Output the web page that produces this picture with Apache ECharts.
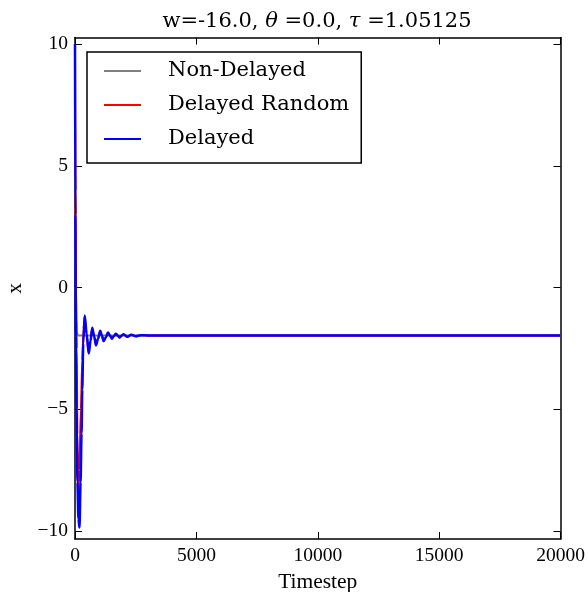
<!DOCTYPE html>
<html>
<head>
<meta charset="utf-8">
<script src="https://cdn.jsdelivr.net/npm/echarts@6/dist/echarts.min.js"></script>
<style>
  html, body { margin: 0; padding: 0; background: #fff; }
  #chart { width: 587px; height: 592px; }
</style>
</head>
<body>
<div id="chart"></div>
<script>
// tick labels
const xTicks = [0, 5000, 10000, 15000, 20000];
const yTicks = [-10, -5, 0, 5, 10];

// Non-Delayed (gray)
const nonDelayedT = [0, 15, 30, 50, 80, 120, 20000];
const nonDelayedX = [10, 3, 0, -1.3, -1.85, -1.97, -1.97];

// Delayed Random (red)
const randomT = [0, 20, 45, 70, 100, 135, 180, 240, 300, 350, 395, 480, 560, 640, 705, 785, 860, 945, 1035, 1105, 1175, 1265, 1355, 1435, 1515, 1595, 1675, 1755, 1835, 1915, 1995, 2155, 2315, 2500, 2700, 3000, 20000];
const randomX = [10, 4, 0, -2.5, -6, -8.46, -7.5, -5, -3, -1.7, -1.2, -1.95, -2.68, -2.2, -1.67, -2.0, -2.36, -2.1, -1.79, -1.98, -2.19, -2.05, -1.86, -1.97, -2.09, -2.0, -1.9, -1.97, -2.05, -1.98, -1.93, -2.02, -1.94, -2.0, -1.96, -1.97, -1.97];

// Delayed (blue)
const delayedT = [0, 15, 35, 60, 100, 140, 185, 230, 270, 300, 340, 400, 480, 565, 640, 710, 790, 865, 950, 1040, 1110, 1180, 1270, 1360, 1440, 1520, 1600, 1680, 1760, 1840, 1920, 2000, 2160, 2320, 2500, 2700, 3000, 20000];
const delayedX = [10, 3, -2, -5, -8, -9.5, -9.86, -8, -6, -4.2, -2.3, -1.15, -1.9, -2.71, -2.2, -1.65, -2.0, -2.38, -2.1, -1.78, -1.98, -2.2, -2.05, -1.85, -1.97, -2.1, -2.0, -1.9, -1.97, -2.05, -1.98, -1.92, -2.02, -1.94, -2.0, -1.96, -1.97, -1.97];

const pairs = (t, x) => t.map((v, i) => [v, x[i]]);

const serif = 'DejaVu Serif';
const tickFont = 'Liberation Serif';
const frame = { show: true, onZero: false, lineStyle: { color: '#000', width: 1.5 } };
const tick = { show: true, inside: true, length: 7, lineStyle: { color: '#000', width: 1 } };

const chart = echarts.init(document.getElementById('chart'));
chart.setOption({
  animation: false,
  backgroundColor: '#fff',
  title: {
    text: 'w=-16.0, {i|θ} =0.0, {i|τ} =1.05125',
    left: 317,
    top: 11,
    padding: 0,
    textAlign: 'center',
    textStyle: {
      fontFamily: serif,
      fontSize: 21,
      fontWeight: 'normal',
      color: '#000',
      rich: {
        i: { fontFamily: serif, fontSize: 21, fontStyle: 'italic', color: '#000' }
      }
    }
  },
  grid: { left: 75, right: 26.5, top: 37.5, bottom: 53, outerBoundsMode: 'none', containLabel: false },
  legend: {
    orient: 'vertical',
    left: 87,
    top: 52,
    padding: [7, 12, 12, 17],
    itemGap: 10,
    itemWidth: 37,
    itemHeight: 2,
    icon: 'rect',
    backgroundColor: '#fff',
    borderColor: '#000',
    borderWidth: 1.5,
    borderRadius: 0,
    textStyle: {
      fontFamily: serif,
      fontSize: 21,
      color: '#000',
      lineHeight: 24,
      padding: [0, 0, 0, 22]
    },
    data: ['Non-Delayed', 'Delayed Random', 'Delayed']
  },
  xAxis: [
    {
      type: 'value', min: 0, max: 20000, interval: 5000, position: 'bottom',
      axisLine: frame, axisTick: tick, splitLine: { show: false },
      axisLabel: { color: '#000', fontFamily: tickFont, fontSize: 19.5, margin: 7, formatter: v => String(v) },
      name: 'Timestep', nameLocation: 'middle', nameGap: 21,
      nameTextStyle: { color: '#000', fontFamily: tickFont, fontSize: 21.5 }
    },
    {
      type: 'value', min: 0, max: 20000, interval: 5000, position: 'top',
      axisLine: frame, axisTick: tick, splitLine: { show: false },
      axisLabel: { show: false }
    }
  ],
  yAxis: [
    {
      type: 'value', min: -10.33, max: 10.27, position: 'left',
      axisLine: frame,
      axisTick: Object.assign({ customValues: yTicks }, tick),
      splitLine: { show: false },
      axisLabel: {
        customValues: yTicks, color: '#000', fontFamily: tickFont, fontSize: 19.5, margin: 7,
        formatter: v => String(v).replace('-', '\u2212')
      },
      name: 'x', nameLocation: 'middle', nameGap: 48,
      nameTextStyle: { color: '#000', fontFamily: tickFont, fontSize: 21.5 }
    },
    {
      type: 'value', min: -10.33, max: 10.27, position: 'right',
      axisLine: frame,
      axisTick: Object.assign({ customValues: yTicks }, tick),
      splitLine: { show: false },
      axisLabel: { show: false }
    }
  ],
  series: [
    {
      name: 'Non-Delayed', type: 'line', data: pairs(nonDelayedT, nonDelayedX),
      showSymbol: false, smooth: 0.3, smoothMonotone: 'x',
      color: '#808080', lineStyle: { width: 2, color: '#808080' }
    },
    {
      name: 'Delayed Random', type: 'line', data: pairs(randomT, randomX),
      showSymbol: false, smooth: 0.3, smoothMonotone: 'x',
      color: '#ff0000', lineStyle: { width: 2, color: '#ff0000' }
    },
    {
      name: 'Delayed', type: 'line', data: pairs(delayedT, delayedX),
      showSymbol: false, smooth: 0.3, smoothMonotone: 'x',
      color: '#0000ff', lineStyle: { width: 2.5, color: '#0000ff' }
    }
  ]
});
</script>
</body>
</html>
